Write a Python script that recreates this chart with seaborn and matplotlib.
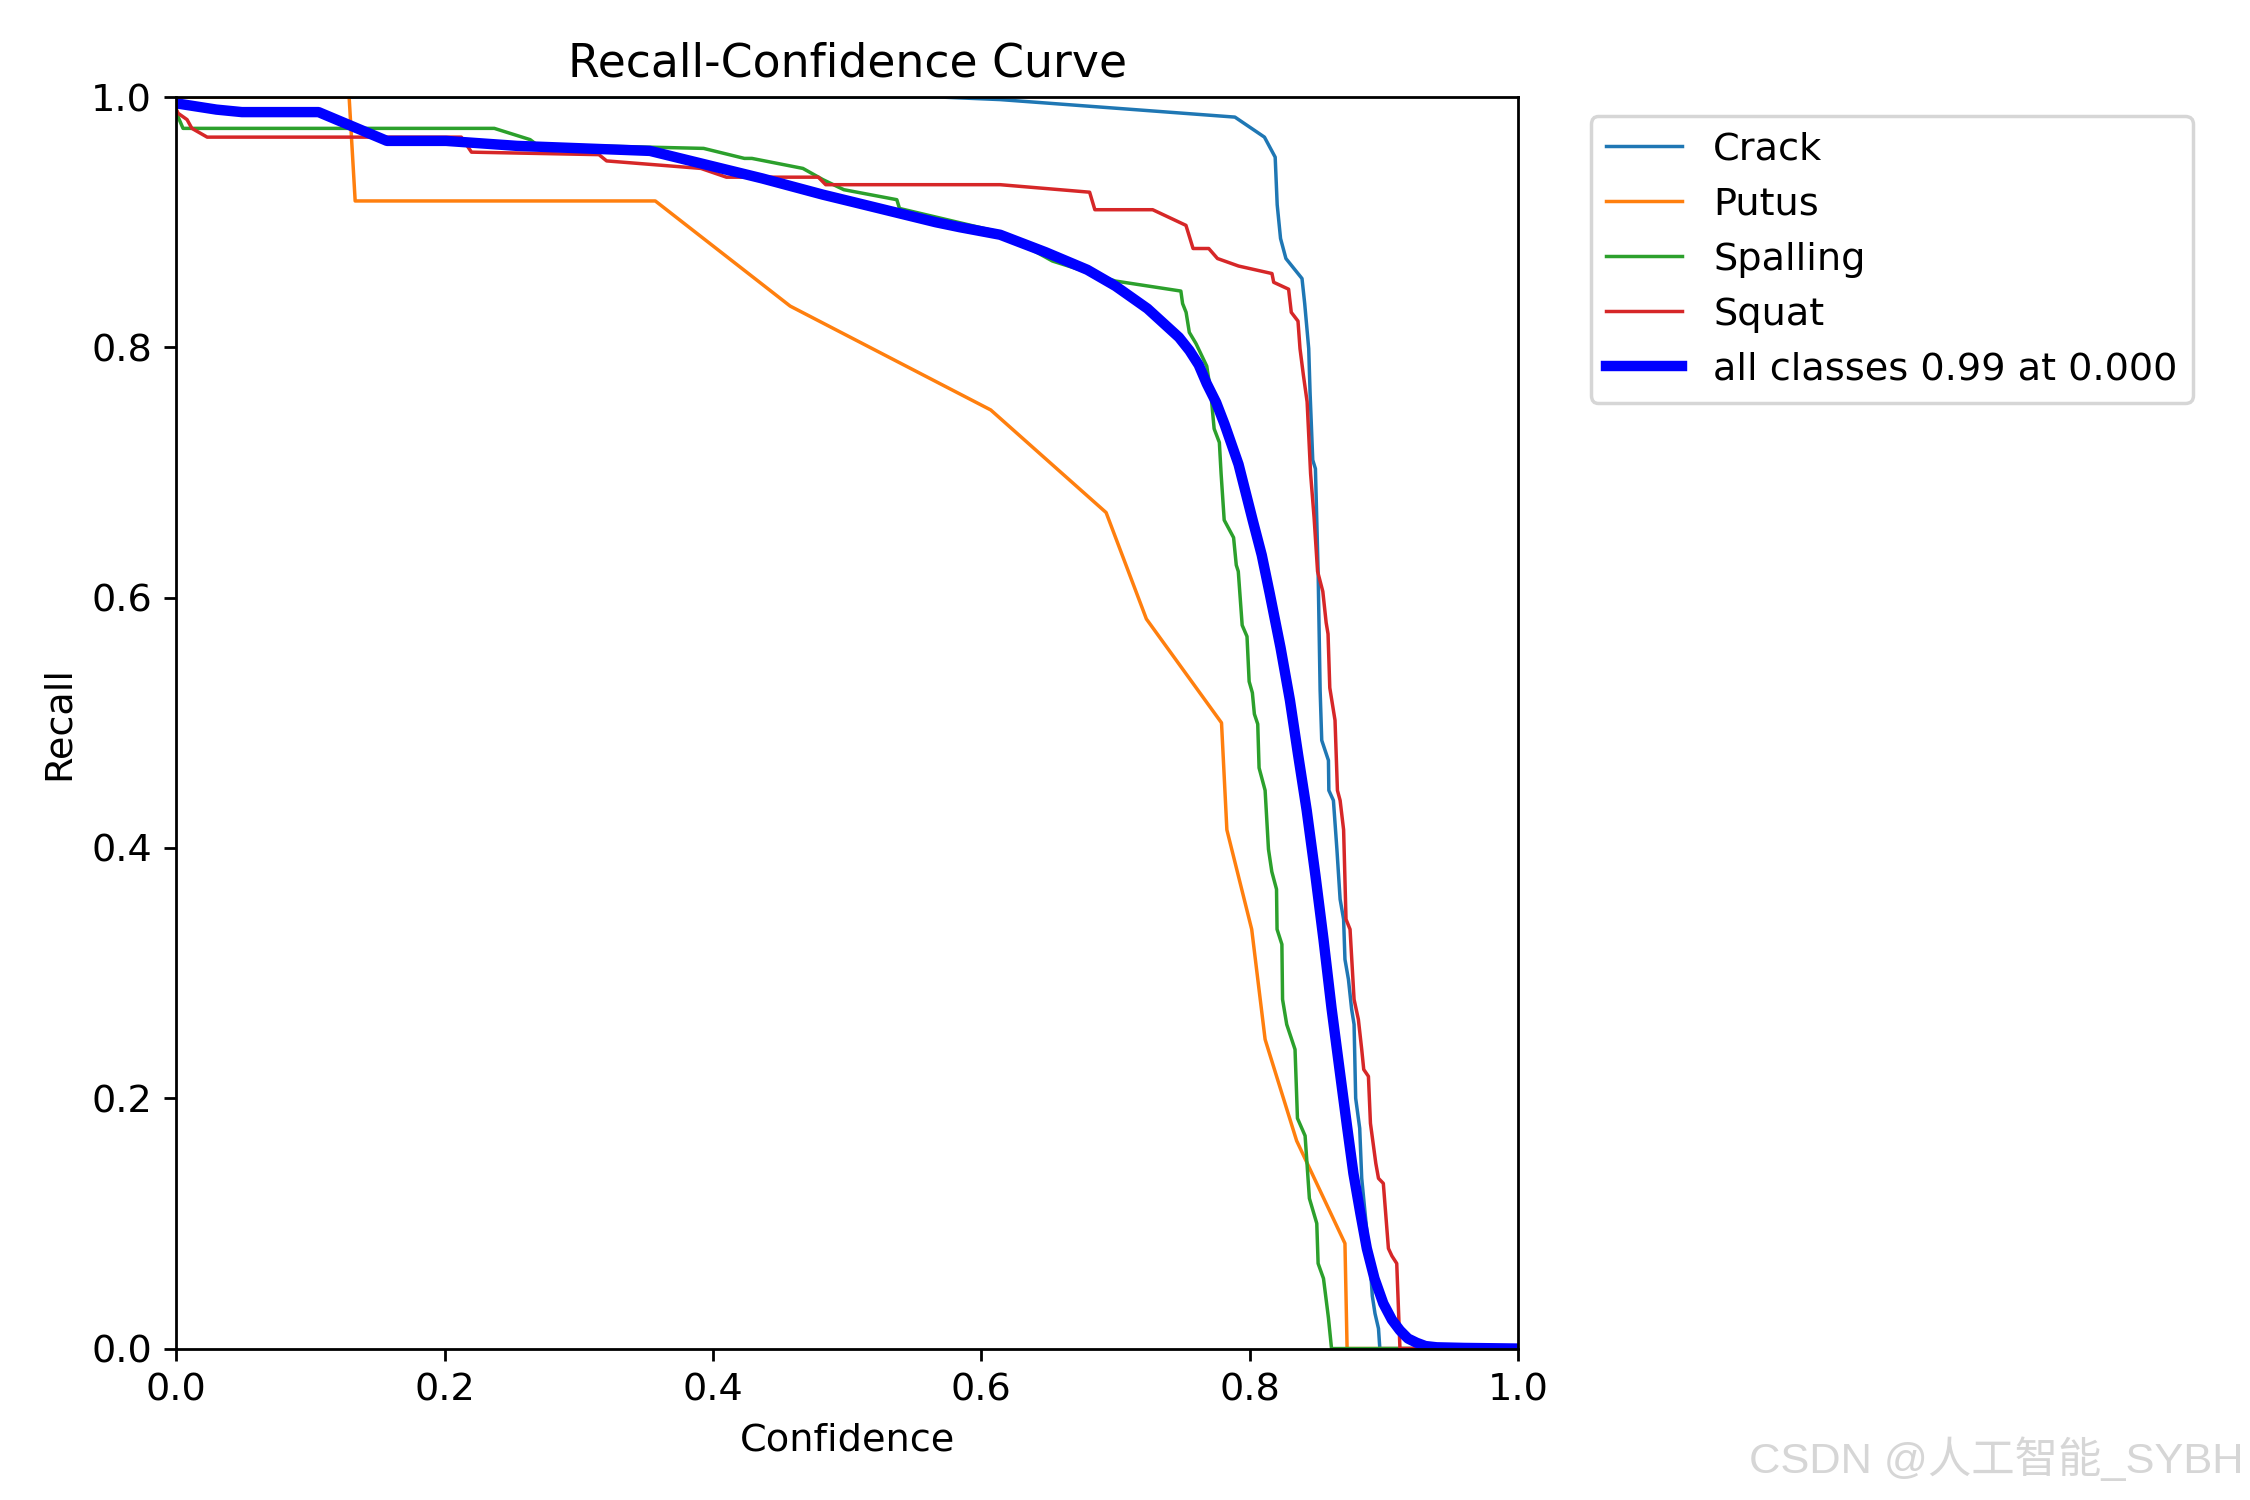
import pandas as pd
import matplotlib
matplotlib.use("Agg")
import matplotlib.pyplot as plt
import seaborn as sns

plt.rcParams["font.size"] = 11

# curves (confidence, recall)
crack_x = [0.0, 0.57, 0.614, 0.789, 0.811, 0.819, 0.8205, 0.823, 0.827, 0.839, 0.841, 0.844,
           0.845, 0.847, 0.849, 0.851, 0.8525, 0.8537, 0.8587, 0.859, 0.8624, 0.865, 0.8674,
           0.870, 0.871, 0.8736, 0.876, 0.8778, 0.879, 0.881, 0.882, 0.8835, 0.890, 0.8914,
           0.8934, 0.896, 0.897, 1.0]
crack_y = [1.0, 1.0, 0.998, 0.984, 0.968, 0.952, 0.914, 0.887, 0.871, 0.855, 0.835, 0.799,
           0.764, 0.710, 0.703, 0.621, 0.526, 0.486, 0.470, 0.446, 0.438, 0.399, 0.359,
           0.343, 0.311, 0.295, 0.271, 0.259, 0.200, 0.184, 0.176, 0.136, 0.064, 0.042,
           0.028, 0.016, 0.0, 0.0]

putus_x = [0.0, 0.1288, 0.1333, 0.357, 0.4575, 0.607, 0.693, 0.723, 0.779, 0.783, 0.8015,
           0.8115, 0.835, 0.871, 0.8726, 1.0]
putus_y = [1.0, 1.0, 0.917, 0.917, 0.833, 0.750, 0.668, 0.583, 0.500, 0.4145, 0.335,
           0.247, 0.166, 0.084, 0.0, 0.0]

spalling_x = [0.0, 0.0014, 0.005, 0.237, 0.2637, 0.2686, 0.393, 0.4234, 0.429, 0.467, 0.482,
              0.4975, 0.537, 0.539, 0.614, 0.653, 0.700, 0.7487, 0.75, 0.7526, 0.755, 0.760,
              0.768, 0.771, 0.7735, 0.7774, 0.7787, 0.781, 0.788, 0.790, 0.7915, 0.7944,
              0.798, 0.7996, 0.802, 0.8035, 0.806, 0.807, 0.8115, 0.814, 0.8165, 0.820,
              0.8204, 0.824, 0.8245, 0.8276, 0.8338, 0.8356, 0.8413, 0.8445, 0.850, 0.851,
              0.855, 0.8587, 0.861, 1.0]
spalling_y = [0.99, 0.984, 0.975, 0.975, 0.966, 0.962, 0.959, 0.951, 0.951, 0.943, 0.934,
              0.926, 0.918, 0.911, 0.892, 0.869, 0.853, 0.845, 0.835, 0.828, 0.812, 0.803,
              0.785, 0.764, 0.735, 0.724, 0.699, 0.662, 0.648, 0.626, 0.621, 0.578,
              0.569, 0.533, 0.524, 0.507, 0.499, 0.464, 0.446, 0.399, 0.381, 0.367,
              0.335, 0.323, 0.279, 0.259, 0.239, 0.184, 0.170, 0.120, 0.100, 0.068,
              0.056, 0.0245, 0.0, 0.0]

squat_x = [0.0, 0.0014, 0.008, 0.0116, 0.023, 0.2124, 0.22, 0.315, 0.3207, 0.391, 0.410,
           0.4785, 0.484, 0.614, 0.6807, 0.6846, 0.7277, 0.7525, 0.7578, 0.7695, 0.776,
           0.7917, 0.8166, 0.8179, 0.829, 0.831, 0.836, 0.8375, 0.840, 0.8428, 0.8454,
           0.848, 0.8506, 0.8545, 0.857, 0.8584, 0.8597, 0.8636, 0.8654, 0.8674, 0.870,
           0.8718, 0.8748, 0.8778, 0.881, 0.8835, 0.885, 0.8885, 0.890, 0.894, 0.896,
           0.8996, 0.9034, 0.906, 0.9096, 0.912, 1.0]
squat_y = [0.99, 0.987, 0.982, 0.975, 0.968, 0.968, 0.956, 0.954, 0.949, 0.943, 0.936,
           0.936, 0.930, 0.930, 0.924, 0.910, 0.910, 0.8975, 0.879, 0.879, 0.871,
           0.865, 0.859, 0.852, 0.8465, 0.828, 0.821, 0.799, 0.778, 0.7565, 0.699,
           0.664, 0.621, 0.605, 0.580, 0.571, 0.528, 0.502, 0.446, 0.438, 0.4145,
           0.343, 0.335, 0.279, 0.263, 0.239, 0.223, 0.2175, 0.180, 0.148, 0.136,
           0.132, 0.080, 0.074, 0.068, 0.0, 0.0]

all_x = [0.0, 0.0299, 0.0489, 0.106, 0.157, 0.201, 0.254, 0.353, 0.372, 0.391, 0.4367,
         0.482, 0.505, 0.5355, 0.566, 0.584, 0.614, 0.648, 0.679, 0.700, 0.7238, 0.7473,
         0.7551, 0.762, 0.768, 0.775, 0.7813, 0.7917, 0.8022, 0.809, 0.815, 0.823, 0.830,
         0.836, 0.8425, 0.849, 0.855, 0.861, 0.8674, 0.8725, 0.8773, 0.8825, 0.8873,
         0.893, 0.8996, 0.906, 0.912, 0.918, 0.9245, 0.931, 0.9394, 0.96, 1.0]
all_y = [0.995, 0.990, 0.988, 0.988, 0.965, 0.965, 0.961, 0.957, 0.952, 0.947, 0.935,
         0.922, 0.916, 0.908, 0.900, 0.896, 0.890, 0.876, 0.862, 0.849, 0.831, 0.808,
         0.7975, 0.786, 0.771, 0.756, 0.7385, 0.7065, 0.662, 0.634, 0.603, 0.560, 0.518,
         0.475, 0.430, 0.378, 0.327, 0.272, 0.2195, 0.178, 0.140, 0.108, 0.080,
         0.056, 0.036, 0.023, 0.0145, 0.008, 0.0046, 0.002, 0.001, 0.0005, 0.0]

names = ["Crack", "Putus", "Spalling", "Squat"]
xs = [crack_x, putus_x, spalling_x, squat_x]
ys = [crack_y, putus_y, spalling_y, squat_y]

fig, ax = plt.subplots(1, 1, figsize=(9, 6), tight_layout=True)

for i, (name, x, y) in enumerate(zip(names, xs, ys)):
    d = pd.DataFrame({"conf": x, "recall": y})
    sns.lineplot(data=d, x="conf", y="recall", ax=ax, sort=False, estimator=None,
                 linewidth=1, color=f"C{i}", label=name)

d_all = pd.DataFrame({"conf": all_x, "recall": all_y})
sns.lineplot(data=d_all, x="conf", y="recall", ax=ax, sort=False, estimator=None,
             linewidth=3, color="blue", label="all classes 0.99 at 0.000")

ax.set_xlabel("Confidence")
ax.set_ylabel("Recall")
ax.set_xlim(0, 1)
ax.set_ylim(0, 1)
ax.legend(bbox_to_anchor=(1.04, 1), loc="upper left")
ax.set_title("Recall-Confidence Curve")

# watermark
fig.text(0.997, 0.012, "CSDN @人工智能_SYBH", ha="right", va="bottom", fontsize=12.5,
         color="#d6d6d6", family=["Liberation Sans", "Noto Sans CJK SC", "DejaVu Sans"])

fig.savefig("out.png", dpi=250)
